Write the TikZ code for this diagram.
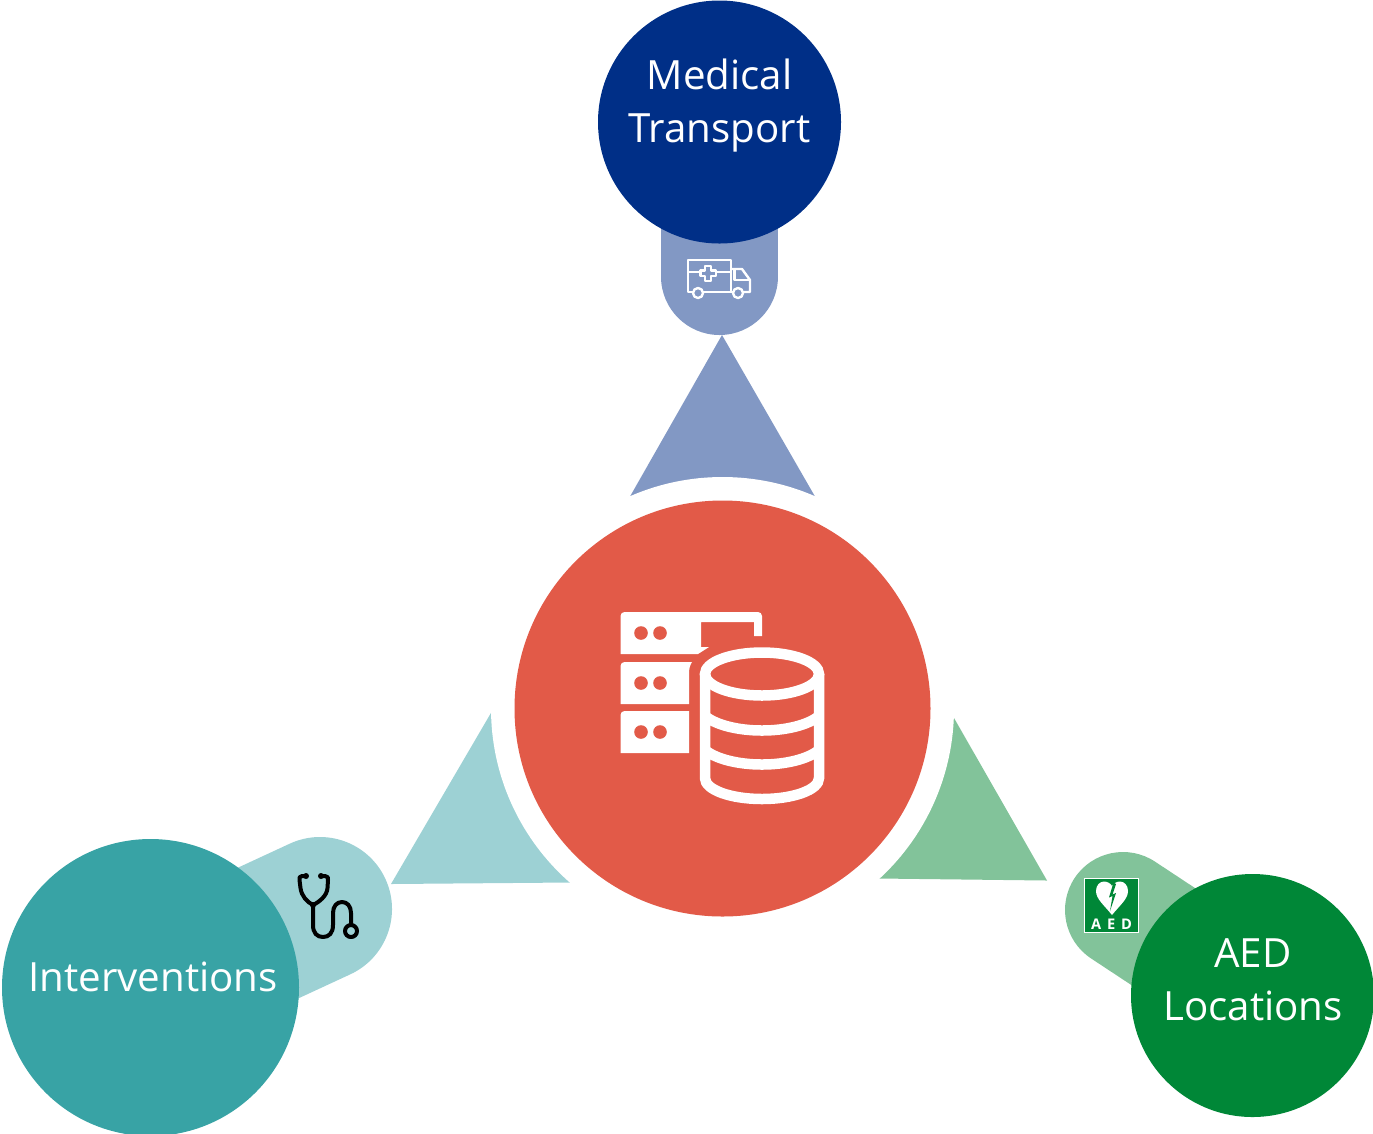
\documentclass[tikz,border=0pt]{standalone}
\usepackage{fontspec}
\setmainfont{Open Sans}
\definecolor{bluedark}{HTML}{002F87}
\definecolor{bluelight}{HTML}{8298C4}
\definecolor{tealdark}{HTML}{38A3A5}
\definecolor{teallight}{HTML}{9DD1D4}
\definecolor{greendark}{HTML}{008737}
\definecolor{greenlight}{HTML}{82C39A}
\definecolor{redmain}{HTML}{E25A48}
\tikzset{
  px/.style={line width=#1*0.75pt},
  pilltube/.style={line cap=round,px=#1},
  whiteicon/.style={draw=white,line join=round},
  label/.style={text=white,font=\fontsize{30.2pt}{39.4pt}\selectfont,align=center,inner sep=0pt},
}
\begin{document}
\begin{tikzpicture}[x=0.75pt,y=-0.75pt]
\useasboundingbox (0,0) rectangle (1373,1133);
\coordinate (hub) at (722.5,708.5);
\coordinate (topc) at (719.5,122);
\coordinate (leftc) at (150.5,987.5);
\coordinate (rightc) at (1252.5,995.5);
\coordinate (toppill) at (719.5,276.5);
\coordinate (leftpill) at (320,909);
\coordinate (rightpill) at (1123,910);
% pills
\draw[pilltube=117,bluelight] (toppill) -- (topc);
\draw[pilltube=144,teallight] (leftpill) -- (leftc);
\draw[pilltube=116,greenlight] (rightpill) -- (rightc);
% triangles
\fill[bluelight] (722,335) -- (630,496.5) -- (hub) -- (815,496.5) -- cycle;
\fill[teallight] (391,884) -- (491.5,712) -- (hub) -- (570,882.5) -- cycle;
\fill[greenlight] (1047,880.5) -- (954,718) -- (hub) -- (879,878.5) -- cycle;
\fill[white] (hub) circle[radius=231.5];
% circles
\fill[redmain] (hub) circle[radius=208];
\fill[bluedark] (topc) circle[radius=121.5];
\fill[tealdark] (leftc) circle[radius=148.5];
\fill[greendark] (rightc) circle[radius=121.5];
% labels
\node[label] (medical) at (719.5,105.5) {Medical\\Transport};
\node[label] (interv) at (153,977) {Interventions};
\node[label] (aed) at (1253,979.5) {AED\\Locations};
% server icon
\fill[white,rounded corners=3pt] (620.5,654) -- (620.5,612) -- (762,612) -- (762,620) [sharp corners] -- (762,636) -- (754,636) -- (754,622) -- (701,622) -- (701,647) -- (709,647) -- (698,654) -- cycle;
\fill[white,rounded corners=3pt] (620.5,704) -- (620.5,662) -- (680,662) [sharp corners] -- (692,662) .. controls (690,665) and (689,669) .. (689,673) -- (689,704) -- cycle;
\fill[white,rounded corners=3pt] (620.5,753) -- (620.5,711) -- (680,711) [sharp corners] -- (689,711) -- (689,753) -- cycle;
\foreach \yy in {633,683,732}{
  \fill[redmain] (641,\yy) circle[radius=6.8];
  \fill[redmain] (660,\yy) circle[radius=6.8];
}
% database icon
\draw[white,px=10.5] (762,674) ellipse[x radius=57,y radius=21.5];
\draw[white,px=10.5,line cap=butt] (705,674) -- (705,778) .. controls (705,790) and (731,799) .. (762,799) .. controls (793,799) and (819,790) .. (819,778) -- (819,674);
\draw[white,px=10.5] (705,716) .. controls (716,725) and (738,730.5) .. (762,730.5) .. controls (786,730.5) and (808,725) .. (819,716);
\draw[white,px=10.5] (705,750) .. controls (716,759) and (738,764.5) .. (762,764.5) .. controls (786,764.5) and (808,759) .. (819,750);
% ambulance icon
\begin{scope}[whiteicon,px=2.4]
\draw (693,292) -- (688,292) -- (688,260) -- (731,260) -- (731,292);
\draw (703,292) -- (733,292);
\draw (743,292) -- (750,292) -- (750,280) -- (742,269) -- (731,269);
\draw (734.5,270) -- (734.5,280) -- (750,280);
\draw (688,272) -- (702,272);
\draw (716,272) -- (731,272);
\draw (698,293) circle[radius=5];
\draw (738,293) circle[radius=5];
\draw (705,266) -- (711,266) -- (711,270.5) -- (716,270.5) -- (716,276) -- (711,276) -- (711,281) -- (705,281) -- (705,276) -- (700.5,276) -- (700.5,270.5) -- (705,270.5) -- cycle;
\end{scope}
% stethoscope icon
\begin{scope}[draw=black,px=4,line cap=round,line join=round]
\draw (306,876) -- (302,876) .. controls (299.5,876) and (299,878) .. (299.5,880) -- (300.5,888) .. controls (301.5,896) and (307,902) .. (313,905) .. controls (319,902) and (327,896) .. (327.5,888) -- (328,880) .. controls (328.5,878) and (328,876) .. (325,876) -- (321,876);
\draw (313,905) -- (313,925) .. controls (313,933) and (317,937) .. (323,937) .. controls (329,937) and (333,933) .. (333,925) -- (333,913) .. controls (333,906) and (337,902) .. (342,902) .. controls (347,902) and (351,906) .. (351,913) -- (351,925);
\draw (351,931) circle[radius=6];
\fill[black] (306,876) circle[radius=3];
\fill[black] (321,876) circle[radius=3];
\fill[black] (313,905) circle[radius=3];
\end{scope}
% AED sign
\draw[fill=greendark,draw=white,px=1.2] (1084.5,878.5) rectangle (1138.5,932.5);
\fill[white] (1112,915) .. controls (1104,905) and (1096,899) .. (1096,891) .. controls (1096,885) and (1100,881.5) .. (1104,881.5) .. controls (1108,881.5) and (1111,884) .. (1112,886) .. controls (1113,884) and (1116,881.5) .. (1120,881.5) .. controls (1124,881.5) and (1128,885) .. (1128,891) .. controls (1128,899) and (1120,905) .. (1112,915) -- cycle;
\fill[greendark] (1113.5,882.5) -- (1109,897.5) -- (1112.5,896) -- (1110,911) -- (1116,893) -- (1112.5,894.5) -- (1116,884) -- cycle;
\node[text=white,font=\fontsize{11pt}{12pt}\selectfont\bfseries,inner sep=0pt] (aedsign) at (1111.5,924.5) {A\hspace{4.4pt}E\hspace{4.4pt}D};
\end{tikzpicture}
\end{document}
